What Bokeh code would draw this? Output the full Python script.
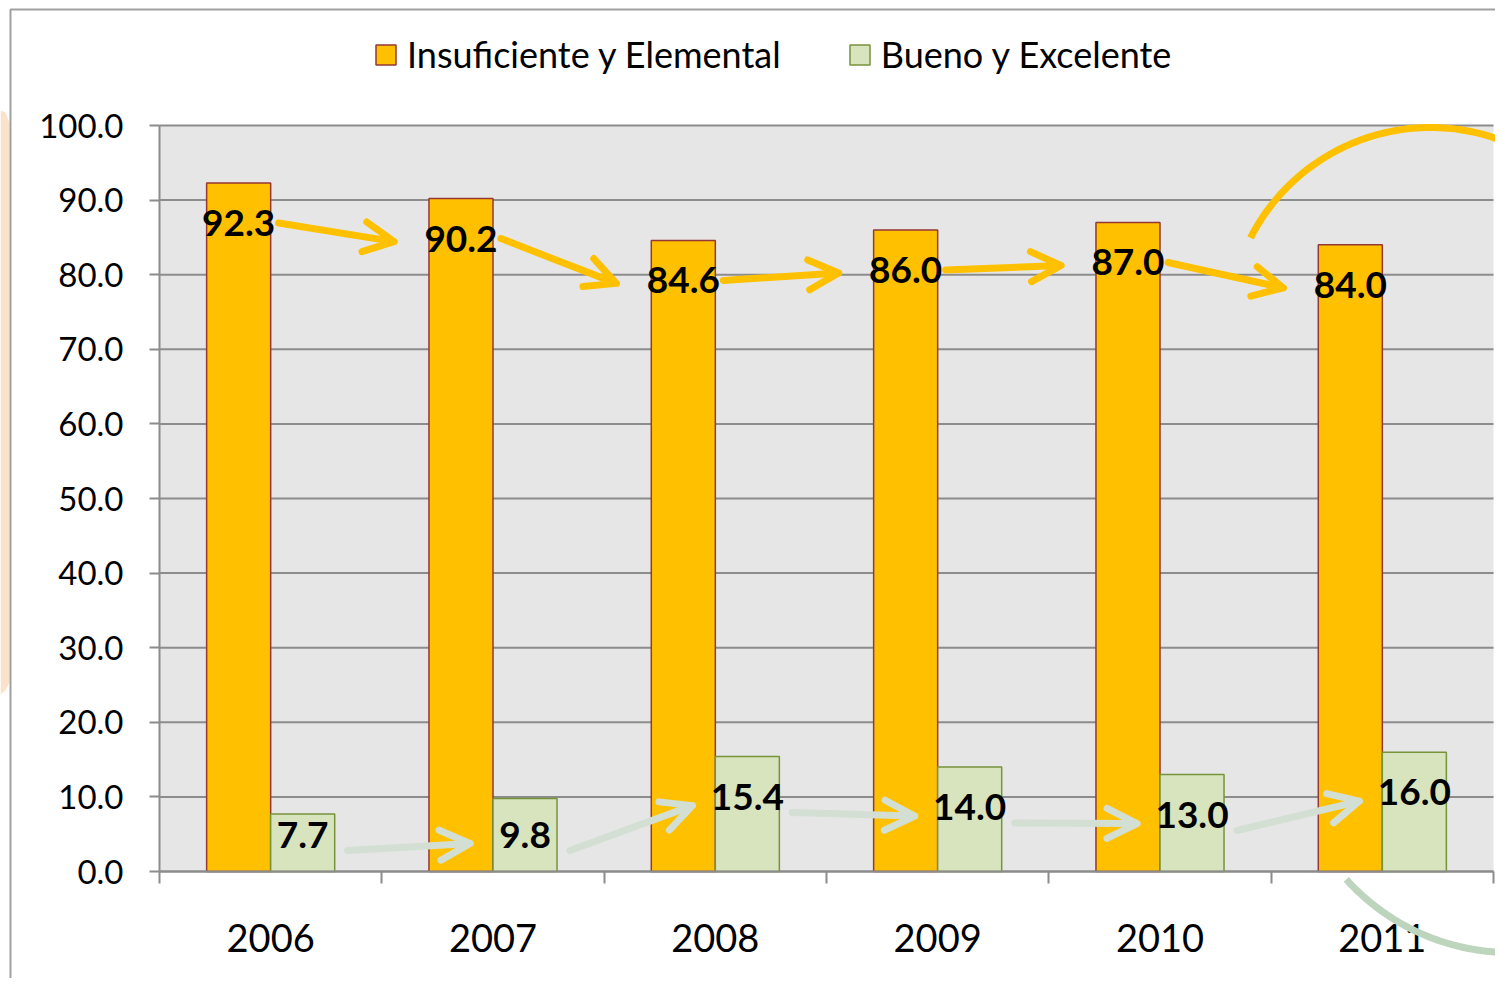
import math
from bokeh.plotting import figure
from bokeh.models import (Range1d, FixedTicker, NumeralTickFormatter, Legend, LegendItem,
                          Arrow, OpenHead, ColumnDataSource, PolyAnnotation)
from bokeh.core.properties import value
from bokeh.embed import file_html
from bokeh.resources import INLINE

# ---- data ----
years = ["2006", "2007", "2008", "2009", "2010", "2011"]
insuficiente = [92.3, 90.2, 84.6, 86.0, 87.0, 84.0]
bueno = [7.7, 9.8, 15.4, 14.0, 13.0, 16.0]
y_ticks = [0, 10, 20, 30, 40, 50, 60, 70, 80, 90, 100]
series_names = ["Insuficiente y Elemental", "Bueno y Excelente"]

# ---- style / layout (pixels) ----
ORANGE = "#FFC000"
ORANGE_LINE = "#953735"
GREEN = "#D7E4BD"
GREEN_LINE = "#77933C"
GRID = "#8C8C8C"
PLOT_BG = "#E6E6E6"
ARROW_GREEN = "#D3DFD2"
ARC_GREEN = "#BDD4BD"
BORDER = "#A0A0A0"
PEACH = "#FBE3CB"
FONT = "Lato"

W, H = 1495, 978
PL, PR, PT, PB = 159, 1493, 125, 871     # plot area in pixels
n = len(years)
ppx = (PR - PL) / n
ppy = (PB - PT) / 100.0
BW = 0.288


def dx(px):
    return (px - PL) / ppx


def dy(py):
    return (PB - py) / ppy


p = figure(width=W, height=H, output_backend="svg", toolbar_location=None,
           x_range=Range1d(dx(0), dx(W)), y_range=Range1d(dy(H), dy(0)),
           min_border_left=0, min_border_right=0, min_border_top=0, min_border_bottom=0)
p.background_fill_color = "white"
p.border_fill_color = "white"
p.outline_line_color = None
p.xgrid.visible = False
p.ygrid.visible = False

# chart border and left decoration
p.patch(x=[dx(v) for v in [0, 5, 9, 9, 5, 0]],
        y=[dy(v) for v in [110, 112, 122, 682, 690, 694]],
        fill_color=PEACH, line_color=None)
p.line(x=[dx(10), dx(10), dx(W)], y=[dy(H), dy(9), dy(9)], line_color=BORDER, line_width=2)

# plot area background and gridlines
p.quad(left=0, right=n, bottom=0, top=100, fill_color=PLOT_BG, line_color=None)
p.segment(x0=[0] * len(y_ticks), x1=[n] * len(y_ticks), y0=y_ticks, y1=y_ticks,
          line_color=GRID, line_width=2)

centers = [i + 0.5 for i in range(n)]
xo = [c - BW / 2 for c in centers]
xg = [c + BW / 2 for c in centers]

src = ColumnDataSource(dict(xo=xo, xg=xg, a=insuficiente, b=bueno))
r1 = p.vbar(x="xo", top="a", width=BW, bottom=0, source=src,
            fill_color=ORANGE, line_color=ORANGE_LINE, line_width=1.5)
r2 = p.vbar(x="xg", top="b", width=BW, bottom=0, source=src,
            fill_color=GREEN, line_color=GREEN_LINE, line_width=1.5)


# data labels (inside end)
def lab_off(v):
    return min(40.0, v * ppy - 37.0)


lo_y = [v - lab_off(v) / ppy for v in insuficiente]
lg_y = [v - lab_off(v) / ppy for v in bueno]
lab_src = ColumnDataSource(dict(
    x=xo + xg, y=lo_y + lg_y,
    t=[f"{v:.1f}" for v in insuficiente] + [f"{v:.1f}" for v in bueno]))
p.text(x="x", y="y", text="t", source=lab_src, text_font=value(FONT), text_font_style="bold",
       text_font_size="37px", text_color="black", text_align="center", text_baseline="middle")


# arrows between labels
def arrows(xs, ys, color, sx_off, ex_off, sy_off, ey_off):
    d = dict(x0=[], y0=[], x1=[], y1=[])
    for i in range(n - 1):
        d["x0"].append(xs[i] + sx_off / ppx)
        d["y0"].append(ys[i] - sy_off / ppy)
        d["x1"].append(xs[i + 1] - ex_off / ppx)
        d["y1"].append(ys[i + 1] - ey_off / ppy)
    a = Arrow(x_start="x0", y_start="y0", x_end="x1", y_end="y1",
              source=ColumnDataSource(d), line_color=color, line_width=7, line_cap="round",
              end=OpenHead(size=30, line_color=color, line_width=7, line_cap="round",
                           line_join="round"))
    p.add_layout(a)


arrows(xo, lo_y, ORANGE, 40, 67, 0, 3)
arrows(xg, lg_y, ARROW_GREEN, 45, 55, 16, 9)


# decorative arcs (centre and radius in pixels)
def band(cxp, cyp, r, a0, a1, w=7, steps=90):
    xs, ys = [], []
    for k in range(steps + 1):
        a = math.radians(a0 + (a1 - a0) * k / steps)
        xs.append(dx(cxp + (r + w / 2) * math.cos(a)))
        ys.append(dy(cyp - (r + w / 2) * math.sin(a)))
    for k in range(steps, -1, -1):
        a = math.radians(a0 + (a1 - a0) * k / steps)
        xs.append(dx(cxp + (r - w / 2) * math.cos(a)))
        ys.append(dy(cyp - (r - w / 2) * math.sin(a)))
    return xs, ys


ax, ay = band(1430, 329, 202, 40, 153)
p.add_layout(PolyAnnotation(xs=ax, ys=ay, fill_color=ORANGE, fill_alpha=1, line_alpha=0))
gx, gy = band(1510, 731, 221, 222, 280)
p.add_layout(PolyAnnotation(xs=gx, ys=gy, fill_color=ARC_GREEN, fill_alpha=1, line_alpha=0))

# axes
yax = p.yaxis[0]
yax.fixed_location = 0
yax.bounds = (0, 100)
yax.ticker = FixedTicker(ticks=y_ticks)
yax.formatter = NumeralTickFormatter(format="0.0")
yax.major_tick_out = 10
yax.major_tick_in = 0
yax.minor_tick_line_color = None
yax.axis_line_color = GRID
yax.axis_line_width = 2
yax.major_tick_line_color = GRID
yax.major_tick_line_width = 2
yax.major_label_text_font = FONT
yax.major_label_text_font_size = "33px"
yax.major_label_text_color = "black"
yax.major_label_standoff = 26

xax = p.xaxis[0]
xax.fixed_location = 0
xax.bounds = (0, n)
xax.ticker = FixedTicker(ticks=centers, minor_ticks=list(range(n + 1)))
xax.major_label_overrides = {c: y for c, y in zip(centers, years)}
xax.major_tick_out = 0
xax.major_tick_in = 0
xax.major_tick_line_color = None
xax.minor_tick_out = 12
xax.minor_tick_in = 0
xax.minor_tick_line_color = GRID
xax.minor_tick_line_width = 2
xax.axis_line_color = GRID
xax.axis_line_width = 2
xax.major_label_text_font = FONT
xax.major_label_text_font_size = "38px"
xax.major_label_text_color = "black"
xax.major_label_standoff = 40

legend = Legend(items=[LegendItem(label=series_names[0], renderers=[r1]),
                       LegendItem(label=series_names[1], renderers=[r2])],
                orientation="horizontal", location=(373, H - 76),
                border_line_alpha=0, background_fill_alpha=0,
                label_text_font=FONT, label_text_font_size="36px", label_text_color="black",
                glyph_width=25, glyph_height=25, label_standoff=9, spacing=66,
                padding=0, margin=0)
p.add_layout(legend)

open("out.html", "w").write(file_html(p, INLINE))
